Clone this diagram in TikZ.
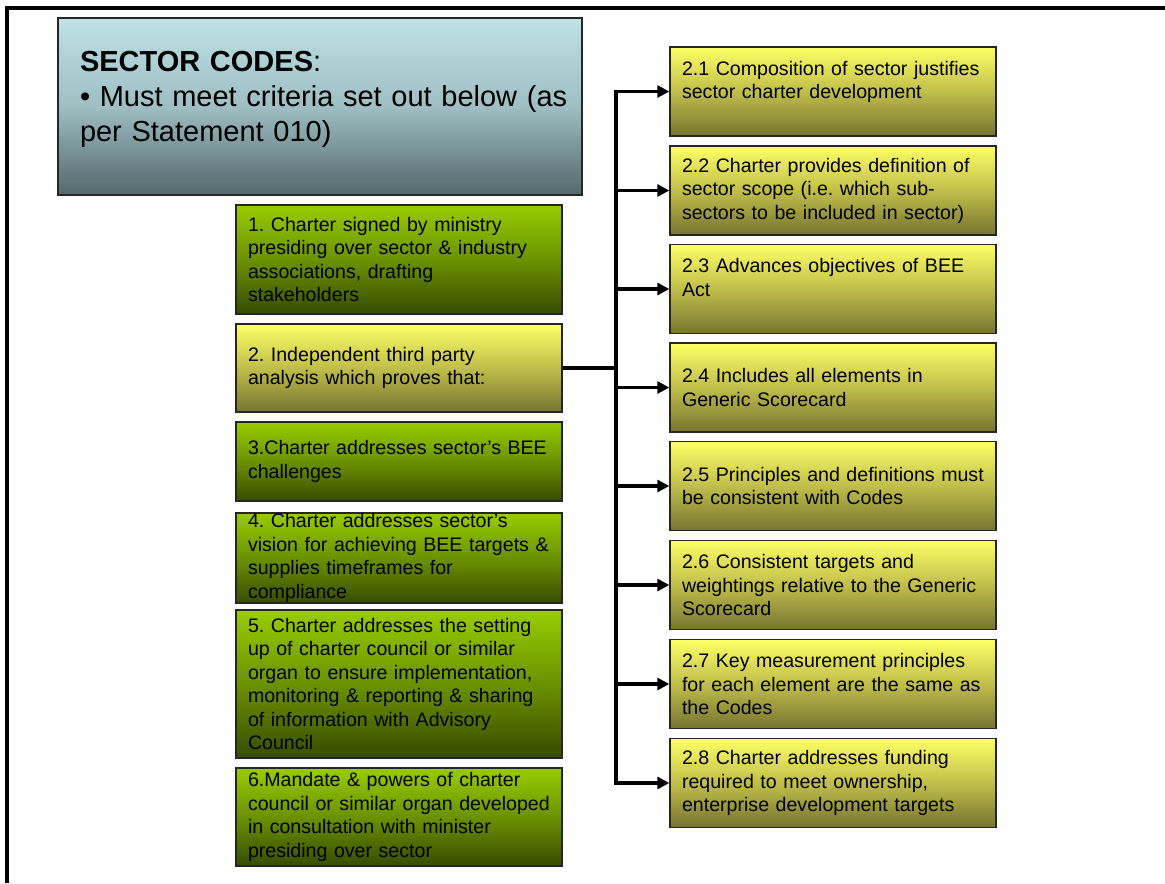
\documentclass[tikz,border=0pt]{standalone}
\usepackage{fontspec}
\setmainfont{Liberation Sans}
\frenchspacing
\usetikzlibrary{arrows.meta}
\tikzset{
  card/.style={draw=black!85, line width=0.7pt, minimum width=163pt, text width=151pt,
    inner xsep=6pt, inner ysep=0pt, align=left, font=\fontsize{9.8}{11.75}\selectfont},
  hdrbox/.style={draw=black!85, line width=0.7pt, minimum width=262pt, minimum height=88.5pt,
    text width=240pt, inner xsep=11pt, align=left, font=\fontsize{14.5}{17.5}\selectfont,
    top color={rgb,255:red,190;green,226;blue,230}, bottom color={rgb,255:red,84;green,104;blue,106},
    middle color={rgb,255:red,158;green,190;blue,194}},
  greenbox/.style={card, top color={rgb,255:red,153;green,204;blue,0},
    bottom color={rgb,255:red,55;green,76;blue,0}, middle color={rgb,255:red,106;green,146;blue,0}},
  yellowbox/.style={card, minimum height=44.5pt, top color={rgb,255:red,255;green,255;blue,102},
    bottom color={rgb,255:red,118;green,116;blue,48}, middle color={rgb,255:red,192;green,190;blue,74}},
  link/.style={line width=1.6pt},
  arr/.style={link, -{Triangle[length=6pt,width=6pt]}}
}
\begin{document}
\begin{tikzpicture}[x=0.5pt,y=-0.5pt]
\useasboundingbox (0,0) rectangle (1165,883);
% frame
\draw[line width=2pt] (7,883) -- (7,8.5) -- (1165,8.5);
% heading
\node[hdrbox] (hdr) at (320,106.5) {\textbf{SECTOR CODES}:\\
  \mbox{• Must meet criteria set out below (as}\\ per Statement 010)\\[-7pt]\mbox{}};
% left column
\node[greenbox, minimum height=54.5pt] (c1) at (399,259.5) {1. Charter signed by ministry\\
  presiding over sector \& industry\\ associations, drafting\\ stakeholders};
\node[yellowbox, minimum height=44pt] (c2) at (399,368) {2. Independent third party\\
  analysis which proves that:};
\node[greenbox, minimum height=39.5pt] (c3) at (399,461.5) {3.Charter addresses sector’s BEE\\
  challenges};
\node[greenbox, minimum height=45pt] (c4) at (399,558) {4. Charter addresses sector’s\\
  vision for achieving BEE targets \&\\ supplies timeframes for\\ compliance};
\node[greenbox, minimum height=74pt] (c5) at (399,684) {5. Charter addresses the setting\\
  up of charter council or similar\\ organ to ensure implementation,\\
  monitoring \& reporting \& sharing\\ of information with Advisory\\ Council};
\node[greenbox, minimum height=49pt] (c6) at (399,817) {6.Mandate \& powers of charter\\
  council or similar organ developed\\ in consultation with minister\\ presiding over sector};
% right column
\node[yellowbox] (r1) at (833,91.5) {2.1 Composition of sector justifies\\
  sector charter development\\ \mbox{}};
\node[yellowbox] (r2) at (833,190.5) {2.2 Charter provides definition of\\
  sector scope (i.e. which sub-\\ sectors to be included in sector)};
\node[yellowbox] (r3) at (833,289) {2.3 Advances objectives of BEE\\ Act\\ \mbox{}};
\node[yellowbox] (r4) at (833,387.5) {2.4 Includes all elements in\\ Generic Scorecard};
\node[yellowbox] (r5) at (833,486) {2.5 Principles and definitions must\\ be consistent with Codes};
\node[yellowbox] (r6) at (833,585) {2.6 Consistent targets and\\
  weightings relative to the Generic\\ Scorecard};
\node[yellowbox] (r7) at (833,684) {2.7 Key measurement principles\\
  for each element are the same as\\ the Codes};
\node[yellowbox] (r8) at (833,783) {2.8 Charter addresses funding\\
  required to meet ownership,\\ enterprise development targets};
% connectors
\coordinate (trunk) at (616,368);
\draw[link] (c2.east) -- (trunk);
\draw[link, line cap=rect] (r1.west -| trunk) -- (r8.west -| trunk);
\foreach \r in {r1,r2,r3,r4,r5,r6,r7,r8}
  \draw[arr] (\r.west -| trunk) -- (\r.west);
\end{tikzpicture}
\end{document}
